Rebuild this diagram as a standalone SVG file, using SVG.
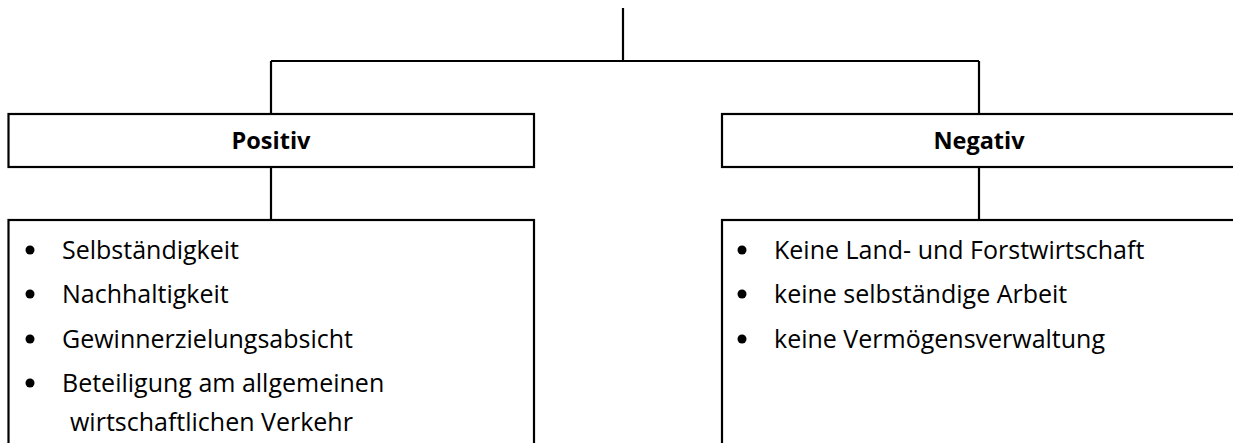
<svg xmlns="http://www.w3.org/2000/svg" width="1233" height="443" viewBox="0 0 1233 443">
<style>
.box{fill:#fff;stroke:#000;stroke-width:2.2}
.ln{fill:none;stroke:#000;stroke-width:2.2}
.h{font-family:"Open Sans","Liberation Sans",sans-serif;font-weight:bold;font-size:23.5px;text-anchor:middle;fill:#000}
.t{font-family:"Open Sans","Liberation Sans",sans-serif;font-size:25px;fill:#000}
.b{fill:#000}
</style>
<rect width="1233" height="443" fill="#fff"/>
<g id="connectors">
<path class="ln" d="M623 8V61M271 61H979M271 61V114M979 61V114M271 167V220M979 167V220"/>
</g>
<g id="positiv">
<rect class="box" x="8.5" y="114" width="525.5" height="53"/>
<text class="h" x="271" y="149">Positiv</text>
</g>
<g id="negativ">
<rect class="box" x="722" y="114" width="514" height="53"/>
<text class="h" x="979" y="149">Negativ</text>
</g>
<g id="positiv-list">
<rect class="box" x="8.5" y="220" width="525.5" height="240"/>
<circle class="b" cx="30" cy="250" r="4.5"/>
<circle class="b" cx="30" cy="294" r="4.5"/>
<circle class="b" cx="30" cy="339" r="4.5"/>
<circle class="b" cx="30" cy="383" r="4.5"/>
<text class="t" x="62" y="259">Selbständigkeit</text>
<text class="t" x="62" y="303">Nachhaltigkeit</text>
<text class="t" x="62" y="348">Gewinnerzielungsabsicht</text>
<text class="t" x="62" y="392">Beteiligung am allgemeinen</text>
<text class="t" x="70" y="431">wirtschaftlichen Verkehr</text>
</g>
<g id="negativ-list">
<rect class="box" x="722" y="220" width="514" height="240"/>
<circle class="b" cx="742" cy="250" r="4.5"/>
<circle class="b" cx="742" cy="294" r="4.5"/>
<circle class="b" cx="742" cy="339" r="4.5"/>
<text class="t" x="774" y="259">Keine Land- und Forstwirtschaft</text>
<text class="t" x="774" y="303">keine selbständige Arbeit</text>
<text class="t" x="774" y="348">keine Vermögensverwaltung</text>
</g>
</svg>
